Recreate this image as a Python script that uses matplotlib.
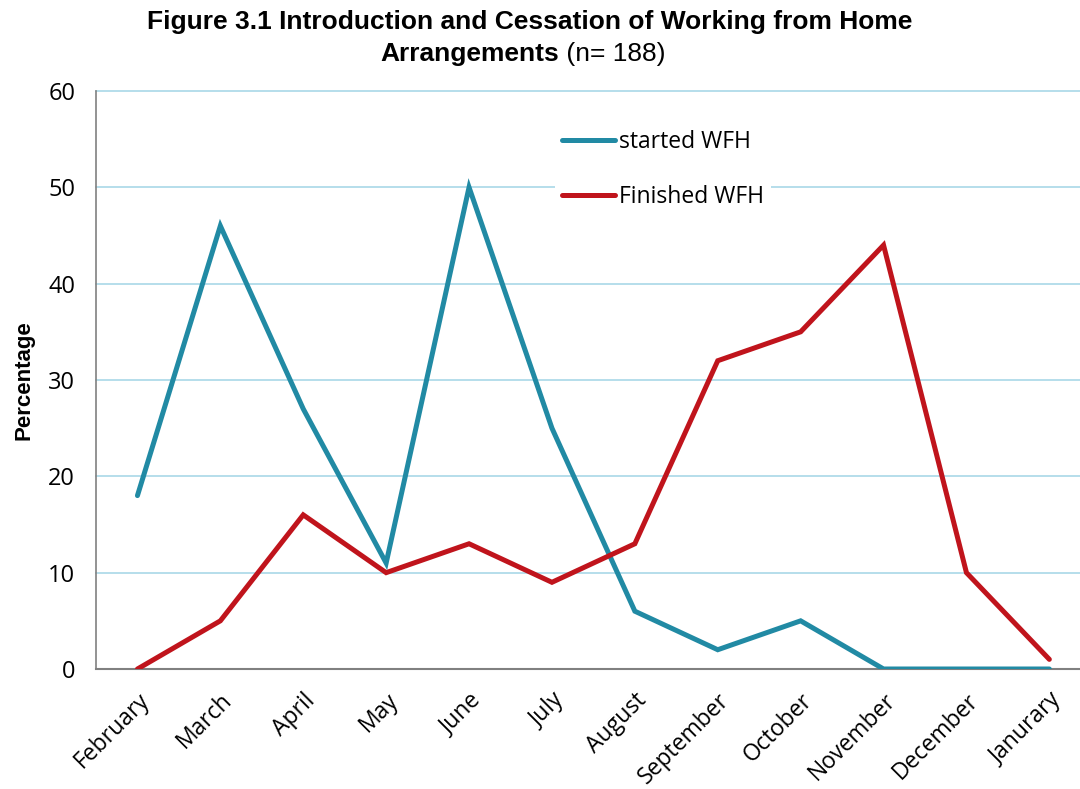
import matplotlib.pyplot as plt

months = ['February', 'March', 'April', 'May', 'June', 'July', 'August',
          'September', 'October', 'November', 'December', 'Janurary']
started = [18, 46, 27, 11, 50, 25, 6, 2, 5, 0, 0, 0]
finished = [0, 5, 16, 10, 13, 9, 13, 32, 35, 44, 10, 1]

title_font = 'Liberation Sans'
body_font = 'Open Sans'

fig = plt.figure(figsize=(10.8, 7.89), dpi=100)
ax = fig.add_axes([96 / 1080, 1 - 669 / 789, 1 - 96 / 1080, (669 - 91) / 789])

x = list(range(len(months)))
ax.plot(x, started, color='#218aa4', lw=3.6, solid_capstyle='round',
        solid_joinstyle='miter', label='started WFH', zorder=3)
ax.plot(x, finished, color='#c0141c', lw=3.6, solid_capstyle='round',
        solid_joinstyle='miter', label='Finished WFH', zorder=3)

ax.set_xlim(-0.5, (1080 - 96) / 82.9 - 0.5)
ax.set_ylim(0, 60)
ax.set_yticks(range(0, 61, 10))
ax.set_xticks(x)
ax.set_xticklabels(months, rotation=45, ha='right', rotation_mode='anchor',
                   fontsize=16.5, family=body_font)
for lab in ax.get_yticklabels():
    lab.set_family(body_font)
    lab.set_fontsize(17)
ax.tick_params(axis='both', length=0)
ax.tick_params(axis='y', pad=15)
ax.tick_params(axis='x', pad=14)

ax.grid(axis='y', color='#a9d8e8', lw=1.2)
for gl in ax.get_ygridlines():
    gl.set_clip_on(False)
ax.set_axisbelow(True)
for s in ['top', 'right']:
    ax.spines[s].set_visible(False)
ax.spines['left'].set_color('#808080')
ax.spines['bottom'].set_color('#808080')
ax.spines['left'].set_linewidth(1.2)
ax.spines['bottom'].set_linewidth(1.5)

ax.set_ylabel('Percentage', fontsize=16, fontweight='bold', family='Liberation Sans',
              labelpad=10)

leg = ax.legend(loc='upper left', bbox_to_anchor=(0.455, 0.964), frameon=True,
                facecolor='white', edgecolor='none', framealpha=1,
                prop={'family': body_font, 'size': 16.5},
                handlelength=2.3, handletextpad=0.2, labelspacing=1.35,
                borderpad=0.3, fancybox=False)

fig.text(0.49, 0.972, 'Figure 3.1 Introduction and Cessation of Working from Home',
         ha='center', va='center', fontsize=19, fontweight='bold', family=title_font)
fig.text(0.518, 0.932, 'Arrangements', ha='right', va='center', fontsize=19,
         fontweight='bold', family=title_font)
fig.text(0.518, 0.932, ' (n= 188)', ha='left', va='center', fontsize=19,
         family=title_font)

fig.savefig('out.png', dpi=100)
